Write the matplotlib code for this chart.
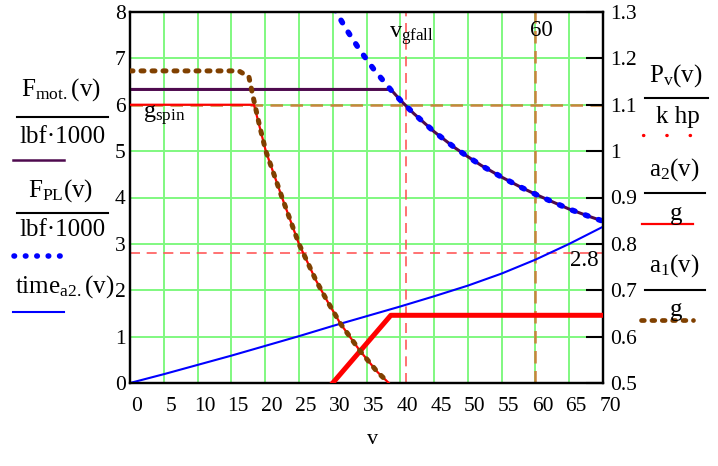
import matplotlib
matplotlib.use("Agg")
import matplotlib.pyplot as plt
import matplotlib.transforms as mt
from matplotlib.lines import Line2D

plt.rcParams['font.family'] = ['Liberation Serif', 'DejaVu Serif']
plt.rcParams['mathtext.default'] = 'regular'

W, H = 718, 466

# --- datos ---
# F_mot./(lbf*1000) : constante y luego limitada por potencia
v_mot = [0, 38.6, 40, 42, 45, 48, 50, 52, 55, 58, 60, 62, 65, 68, 70]
F_mot = [6.33, 6.33, 6.10, 5.81, 5.42, 5.08, 4.88, 4.69, 4.44, 4.21, 4.07, 3.94, 3.75, 3.59, 3.49]

# F_PL/(lbf*1000)
v_pl = [30.2, 32, 34, 36, 38.6, 40, 42, 45, 48, 50, 52, 55, 58, 60, 62, 65, 68, 70]
F_PL = [8.08, 7.63, 7.18, 6.78, 6.32, 6.10, 5.81, 5.42, 5.08, 4.88, 4.69, 4.44, 4.21, 4.07, 3.94, 3.75, 3.59, 3.49]

# time_a2.(v)
v_t = [0, 5, 10, 15, 20, 25, 30, 35, 40, 45, 50, 55, 60, 65, 70]
time_a2 = [0, 0.19, 0.39, 0.59, 0.80, 1.01, 1.23, 1.44, 1.65, 1.87, 2.10, 2.36, 2.66, 3.00, 3.37]

# P_v/(k hp)  (eje derecho)
v_p = [30.0, 38.6, 70]
P_v = [0.5, 0.646, 0.646]

# a2/g (eje derecho)
v_a2 = [0, 18.35, 20.1, 22.5, 25.0, 27.5, 29.1, 31.1, 34.0, 36.6, 38.3]
a2 = [1.1, 1.1, 1.0, 0.9, 0.8, 0.722, 0.679, 0.629, 0.57, 0.524, 0.5]

# a1/g (eje derecho)
v_a1 = [0, 16.1, 17.6, 18.1, 18.6, 19.2, 20.1, 22.5, 25.0, 27.5, 29.1, 31.1, 34.0, 36.6, 38.3]
a1 = [1.173, 1.173, 1.16, 1.125, 1.092, 1.053, 1.0, 0.9, 0.8, 0.722, 0.679, 0.629, 0.57, 0.524, 0.5]

# marcadores
v_gfall = 40.8
v_60 = 60
y_28 = 2.8
g_spin = 6

x_ticks = list(range(0, 75, 5))
y_ticks = list(range(0, 9))
y2_ticks = [0.5, 0.6, 0.7, 0.8, 0.9, 1.0, 1.1, 1.2, 1.3]
y2_labels = ['0.5', '0.6', '0.7', '0.8', '0.9', '1', '1.1', '1.2', '1.3']

GREEN = '#80F880'
PURPLE = '#4E0A4E'
BROWN = '#804000'
MRED = '#FF5A5A'
MBROWN = '#C8843C'
LEG = 18


def fx(x):
    return x / W


def fy(y):
    return 1 - y / H


fig = plt.figure(figsize=(W / 100, H / 100), dpi=100)
ax = fig.add_axes([fx(130), fy(383), (603 - 130) / W, (383 - 12) / H])
ax2 = ax.twinx()

ax.set_xlim(0, 70)
ax.set_ylim(0, 8)
ax2.set_ylim(0.5, 1.3)

ax.set_xticks(x_ticks)
ax.set_xticklabels([str(t) for t in x_ticks])
ax.set_yticks(y_ticks)
ax.set_yticklabels([str(t) for t in y_ticks])
ax2.set_yticks(y2_ticks)
ax2.set_yticklabels(y2_labels)

ax.grid(True, color=GREEN, lw=1.4)
ax.set_axisbelow(True)
ax.tick_params(axis='both', length=0, labelsize=15.5)
ax.tick_params(axis='y', pad=3)
ax.tick_params(axis='x', pad=10)
ax2.tick_params(axis='y', direction='in', length=12, width=1.5, pad=5, labelsize=15.5)
for sp in list(ax.spines.values()) + list(ax2.spines.values()):
    sp.set_linewidth(1.6)
    sp.set_color('black')

# desplazar las etiquetas del eje x un poco a la derecha (como en Mathcad)
for lab in ax.get_xticklabels():
    lab.set_transform(lab.get_transform() + mt.ScaledTranslation(7 / 100, 0, fig.dpi_scale_trans))

# marcadores
ax.axvline(v_gfall, color=MRED, lw=1.2, ls=(0, (6, 4)), zorder=1.5)
ax.axvline(v_60, color=MBROWN, lw=1.8, ls=(0, (5, 3)), zorder=1.5)
ax.axhline(y_28, color=MRED, lw=1.2, ls=(0, (6, 4)), zorder=1.5)
ax.axhline(g_spin, color=MBROWN, lw=1.8, ls=(0, (5, 3)), zorder=1.5)

# curvas eje izquierdo
ax.plot(v_mot, F_mot, color=PURPLE, lw=2.2, zorder=3)
ax.plot(v_pl, F_PL, color='#0000FF', lw=4.0, ls=(0, (0.5, 2.0)), dash_capstyle='round', zorder=4)
ax.plot(v_t, time_a2, color='#0000FF', lw=1.5, zorder=3)

# curvas eje derecho
ax2.plot(v_p, P_v, color='#FF0000', lw=3.6, zorder=3)
ax2.plot(v_a2, a2, color='#FF0000', lw=1.6, zorder=3)
ax2.plot(v_a1, a1, color=BROWN, lw=3.6, ls=(0, (0.6, 1.6)), dash_capstyle='round', zorder=4)

# etiquetas de marcadores
fig.text(fx(389), fy(24), r'$\mathregular{v_{gfall}}$', fontsize=17.5, ha='left', va='top')
fig.text(fx(541.5), fy(30.5), '60', fontsize=16.5, ha='center', va='center')
fig.text(fx(584), fy(261), '2.8', fontsize=16.5, ha='center', va='center')
fig.text(fx(143), fy(103), r'$\mathregular{g_{spin}}$', fontsize=17.5, ha='left', va='top')

# etiqueta eje x
fig.text(fx(373), fy(440), 'v', fontsize=16, ha='center', va='center')


def fline(x0, x1, y, **kw):
    fig.add_artist(Line2D([fx(x0), fx(x1)], [fy(y), fy(y)], transform=fig.transFigure, **kw))


# leyenda izquierda
fig.text(fx(61), fy(90), r'$\mathregular{F_{mot.}(v)}$', fontsize=LEG, ha='center', va='center')
fline(17, 108, 117, color='black', lw=1.5)
fig.text(fx(63), fy(137), 'lbf·1000', fontsize=LEG, ha='center', va='center')
fline(13, 64, 160, color=PURPLE, lw=1.8)

fig.text(fx(61), fy(191), r'$\mathregular{F_{PL}(v)}$', fontsize=LEG, ha='center', va='center')
fline(17, 108, 213, color='black', lw=1.5)
fig.text(fx(63), fy(230), 'lbf·1000', fontsize=LEG, ha='center', va='center')
fline(14, 62, 256, color='#0000FF', lw=4.0, ls=(0, (0.1, 1.95)), dash_capstyle='round')

fig.text(fx(65), fy(287), r'$\mathregular{time_{a2.}(v)}$', fontsize=LEG, ha='center', va='center')
fline(13, 64, 312, color='#0000FF', lw=1.5)

# leyenda derecha
fig.text(fx(676), fy(76), r'$\mathregular{P_{v}(v)}$', fontsize=LEG, ha='center', va='center')
fline(645, 708, 98, color='black', lw=1.5)
fig.text(fx(678), fy(117), 'k hp', fontsize=LEG, ha='center', va='center')
fline(643, 692, 135, color='#FF0000', lw=2.4, ls=(0, (0.1, 6.9)), dash_capstyle='round')

fig.text(fx(674), fy(170), r'$\mathregular{a_{2}(v)}$', fontsize=LEG, ha='center', va='center')
fline(645, 705, 193, color='black', lw=1.5)
fig.text(fx(676), fy(214), 'g', fontsize=LEG, ha='center', va='center')
fline(642, 693, 224, color='#FF0000', lw=1.6)

fig.text(fx(674), fy(266), r'$\mathregular{a_{1}(v)}$', fontsize=LEG, ha='center', va='center')
fline(645, 705, 290, color='black', lw=1.5)
fig.text(fx(676), fy(310), 'g', fontsize=LEG, ha='center', va='center')
fline(641, 693, 320, color=BROWN, lw=3.4, ls=(0, (0.6, 1.6)), dash_capstyle='round')

fig.savefig('out.png', dpi=100)
plt.close(fig)
